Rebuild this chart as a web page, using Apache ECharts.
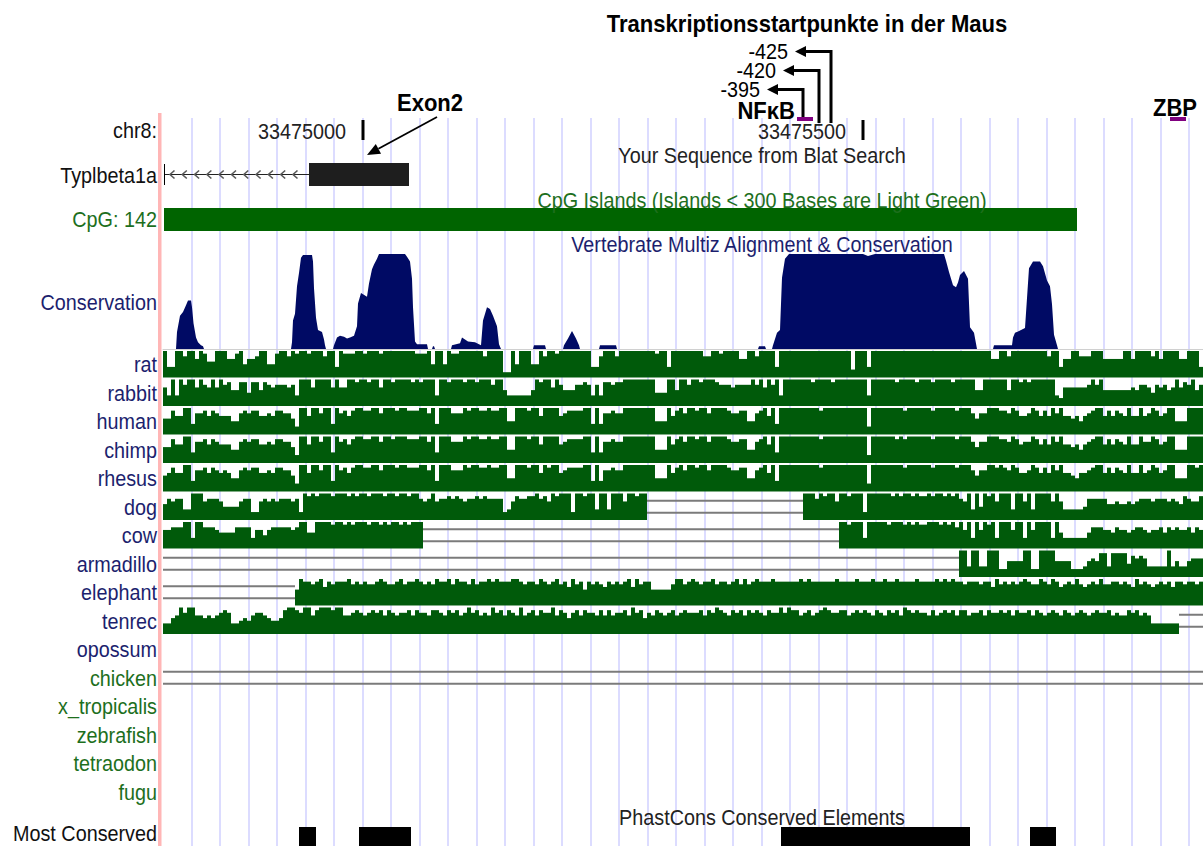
<!DOCTYPE html>
<html>
<head>
<meta charset="utf-8">
<title>Typlbeta1a promoter region, chr8</title>
<script src="https://cdn.jsdelivr.net/npm/echarts@6/dist/echarts.min.js"></script>
<style>
  html, body { margin: 0; padding: 0; background: #fff; }
  #chart { width: 1203px; height: 846px; }
</style>
</head>
<body>
<div id="chart"></div>
<script>
// ---------------- data ----------------
// genomic window on chr8 (1 base per pixel column)
const chromName = 'chr8';
const viewStart = 33474800;
const viewEnd = 33475840;

// base position ruler
const rulerTicks = [33475000, 33475500];

// Typlbeta1a, minus strand: visible intron part and exon 2
const geneName = 'Typlbeta1a';
const geneIntron = [33474801, 33474946];
const geneExon2 = [33474946, 33475046];
const exon2Callout = 33475004;

// CpG island
const cpgLabel = 'CpG: 142';
const cpgIsland = [33474801, 33475714];

// phastCons conservation: offsets from viewStart and scores (0..1)
const consOffsets = [0, 13, 14, 17, 20, 23, 25, 28, 29, 30.5, 33, 35, 38, 40, 41,
  128, 129, 130, 132, 134, 136, 138, 140, 149, 150, 151, 153, 155, 159, 161, 162, 163,
  170, 171, 174, 177, 181, 184, 187, 191, 194, 195, 198, 204, 206, 209, 211, 214, 216, 242, 244, 247, 249, 250, 252, 254, 264, 265,
  269, 270, 271, 272,
  288, 289, 297, 299, 302, 305, 312, 318, 320, 324, 327, 330, 334, 336, 338,
  370, 371, 382, 383,
  400, 401, 405, 409, 413, 416, 417,
  436, 437, 453, 454,
  595, 596, 602, 603,
  609, 610, 614, 617, 619, 622, 626, 700, 705, 712, 781, 783, 786, 790, 793, 795, 797, 801, 805, 807, 811, 814,
  830, 831, 849, 850, 852, 856, 862, 866, 870, 877, 880, 884, 887, 889, 891, 894, 895, 1040];
const consScores = [0, 0, 0.18, 0.35, 0.39, 0.46, 0.51, 0.51, 0.44, 0.27, 0.12, 0.07, 0.04, 0.03, 0,
  0, 0.07, 0.3, 0.37, 0.66, 0.8, 0.96, 0.99, 0.99, 0.92, 0.64, 0.33, 0.2, 0.18, 0.1, 0.04, 0,
  0, 0.04, 0.12, 0.14, 0.13, 0.11, 0.12, 0.14, 0.24, 0.48, 0.59, 0.55, 0.69, 0.84, 0.89, 0.95, 1, 1, 0.97, 0.92, 0.74, 0.44, 0.08, 0.05, 0.05, 0,
  0, 0.03, 0.03, 0,
  0, 0.04, 0.06, 0.12, 0.1, 0.08, 0.07, 0.04, 0.3, 0.44, 0.42, 0.35, 0.24, 0.05, 0,
  0, 0.04, 0.04, 0,
  0, 0.04, 0.11, 0.19, 0.11, 0.04, 0,
  0, 0.04, 0.04, 0,
  0, 0.03, 0.03, 0,
  0, 0.04, 0.17, 0.2, 0.75, 0.95, 1, 1, 0.98, 1, 1, 0.93, 0.81, 0.67, 0.65, 0.7, 0.78, 0.82, 0.74, 0.23, 0.17, 0,
  0, 0.04, 0.04, 0.12, 0.17, 0.19, 0.22, 0.85, 0.92, 0.92, 0.87, 0.72, 0.66, 0.47, 0.15, 0.04, 0, 0];

// multiz species; one character per 4 bases: 0-9 = score level, '-' = unaligned gap, '.' = no data
const speciesNames = ['rat', 'rabbit', 'human', 'chimp', 'rhesus', 'dog', 'cow', 'armadillo',
  'elephant', 'tenrec', 'opossum', 'chicken', 'x_tropicalis', 'zebrafish', 'tetraodon', 'fugu'];

const ratAlign = '9339979969 8559996689 4667994489 9798998999 7993988899 8999899999 9998889499 4988999999 7999911949 9944979989 9999999337 9997999999 9998993999 9999977998 9999669979 9993999999 9999999999 9929993999 9999999999 9999999999 9999999669 9799999999 9799366997 7799966666 9969999796 9999669993';
const rabbitAlign = '6393979969 7696978558 8488587677 7673999699 9969669989 9899699899 9989899939 9899989989 9979953333 3359899697 5557787373 8878899999 9994449959 9799899987 7767777979 6979399999 9989999899 9999993999 9998999989 9989999899 9995599999 9599898999 9993266666 6797955555 5565776476 7569687957';
const humanAlign = '5586699377 8687666447 8788667688 7752996997 9939786899 8899799989 9888997939 9977798998 8988994499 9899699996 7888899393 7787799999 9994449689 7998997999 9877884478 9693999999 9999899999 9999992999 9999989999 9989999989 9975779998 8798667986 8697966564 6789968687 6966967986 7994449999';
const chimpAlign = '5586699377 8687666447 8788667688 7752996997 9939786899 8899799899 9888997939 9977798998 8988994499 9899699996 7888899393 7787799999 9994449689 7998997999 9877884478 9693999999 9999899999 9999992999 9998989999 9989999989 9975779998 8798677986 8697966564 6789968687 6966977986 7994449999';
const rhesusAlign = '5686699377 8687676447 8788667688 7752996997 9939786899 8899799989 9888997939 9977798998 8988994499 9899698996 7888899393 7787799999 9994449689 7998997999 9877884478 9693999999 9999899999 9999992999 9999989999 9989999989 9975779989 8798667986 8697966546 6789968687 6966967986 7994449989';
const dogAlign = '5767733999 6777644446 7722676767 7767298989 9989998989 9899989989 9899767967 7878767787 8777723687 7889786989 9929989939 9399969989 9--------- ---------- ---------- ---------- 9997989969 9899929999 9989899898 8989989897 6939498969 9939969399 9969633333 4777775565 5656777677 7676587668';
const cowAlign = '6677799399 7776555577 7736646777 7767995599 9989989899 9899898998 98999----- ---------- ---------- ---------- ---------- ---------- ---------- ---------- ---------- ---------- ---------9 9899939999 9899989898 8999898979 6939698939 9969939699 9939533333 3577766576 6567765667 5767667576';
const armadilloAlign = '---------- ---------- ---------- ---------- ---------- ---------- ---------- ---------- ---------- ---------- ---------- ---------- ---------- ---------- ---------- ---------- ---------- ---------- ---------- ---------9 9399339992 2555599229 9995555222 3565883888 8476763333 3935335666';
const elephantAlign = '---------- ---------- ---------- ---5988789 6878889787 8778987789 7889878798 8979887978 8989888998 7887987897 8697858787 6878789697 8855555799 7898788978 8789797898 8898888889 8988888898 8889888988 9889888898 8889898988 7888788697 8787898779 8798678797 6787977887 8769787678 7868878878';
const tenrecAlign = '3356979966 5656787334 5467765445 8998799689 9989966787 6787868767 7868776887 6878679786 7697868769 6786877968 7578687768 6867786978 5768767867 8777868798 7687868787 6877979886 7867898778 8678787687 6878698787 7686787868 8677868778 7868778687 6787687678 7678778676 6878676333 3333------';
const opossumAlign = '';
const chickenAlign = '---------- ---------- ---------- ---------- ---------- ---------- ---------- ---------- ---------- ---------- ---------- ---------- ---------- ---------- ---------- ---------- ---------- ---------- ---------- ---------- ---------- ---------- ---------- ---------- ---------- ----------';
const xTropicalisAlign = '';
const zebrafishAlign = '';
const tetraodonAlign = '';
const fuguAlign = '';
const speciesAligns = [ratAlign, rabbitAlign, humanAlign, chimpAlign, rhesusAlign, dogAlign, cowAlign,
  armadilloAlign, elephantAlign, tenrecAlign, opossumAlign, chickenAlign, xTropicalisAlign,
  zebrafishAlign, tetraodonAlign, fuguAlign];
const ALIGN_STEP = 4;

// PhastCons most conserved elements (offsets from viewStart)
const mostConservedStarts = [136, 196, 618, 867];
const mostConservedEnds = [153, 248, 807, 893];

// mouse transcription start sites (offsets from viewStart)
const tssOffsets = [640, 656, 668];
const tssLabels = ['-395', '-420', '-425'];

// binding sites (offsets from viewStart)
const siteNames = ['NF\u03baB', 'ZBP'];
const siteStarts = [634, 1007];
const siteEnds = [650, 1023];

// ---------------- layout & style ----------------
const W = 1203, H = 846;
const DATA_LEFT = 163;
const LABEL_RIGHT = 157;
const TITLE_X = 762;
const FONT = '"Liberation Sans", Arial, Helvetica, sans-serif';
const TEXT_SCALE = 0.9;
const CONS_NAVY = '#000a64';
const NAVY_TEXT = '#1c1f6e';
const ALIGN_GREEN = '#005a0a';
const GREEN_TEXT = '#1d6f1d';
const CPG_GREEN = '#006400';
const GUIDE_COLOR = '#dcdcff';
const GAP_COLOR = '#7b7b7b';
const GAP_OFFSET = 6;
const SPECIES_TOP = 351, SPECIES_ROW = 28.5, SPECIES_H = 26.5;
const TSS_ROW_Y = [89.5, 70.5, 51.5];
const TSS_BOTTOM_Y = [117, 123, 123];
const TSS_ARM = 36;
const SITE_BAR_Y = 117, SITE_BAR_H = 4;
const SITE_LABEL_ALIGN = ['right', 'center'];
const SITE_LABEL_DX = [-2, -3];
const SITE_LABEL_Y = [110.5, 107.5];

const trackBoxes = [
  { key: 'ruler', top: 120, height: 20, label: chromName + ':', color: '#111', labelY: 130 },
  { key: 'gene', top: 163, height: 23, label: geneName, color: '#111', labelY: 175 },
  { key: 'cpg', top: 208, height: 23, label: cpgLabel, color: GREEN_TEXT, labelY: 219.5 },
  { key: 'cons', top: 254, height: 95, label: 'Conservation', color: NAVY_TEXT, labelY: 302.5 }
];
speciesNames.forEach((name, i) => {
  const top = SPECIES_TOP + SPECIES_ROW * i;
  trackBoxes.push({ key: 'sp' + i, top, height: SPECIES_H, label: name,
    color: i < 11 ? NAVY_TEXT : GREEN_TEXT, labelY: top + SPECIES_H / 2 });
});
trackBoxes.push({ key: 'phast', top: 827, height: 22, label: 'Most Conserved', color: '#111', labelY: 833.5 });

const trackTitles = [
  { text: 'Your Sequence from Blat Search', y: 155, color: '#222' },
  { text: 'CpG Islands (Islands < 300 Bases are Light Green)', y: 200, color: GREEN_TEXT },
  { text: 'Vertebrate Multiz Alignment & Conservation', y: 244, color: NAVY_TEXT },
  { text: 'PhastCons Conserved Elements', y: 817, color: '#222' }
];

// ---------------- helpers ----------------
function font(size, weight) { return (weight || 'normal') + ' ' + size + 'px ' + FONT; }
function textEl(text, x, y, color, size, align, weight) {
  return { type: 'text', x, y, scaleX: TEXT_SCALE, z: 50, silent: true,
    style: { text, fill: color, font: font(size, weight), align: align, verticalAlign: 'middle' } };
}
function decodeAlign(str) {
  const s = str.replace(/\s+/g, '');
  const out = [];
  let i = 0;
  while (i < s.length) {
    let j = i;
    while (j < s.length && s[j] === s[i]) j++;
    const ch = s[i];
    if (ch !== '.') {
      out.push([viewStart + i * ALIGN_STEP, viewStart + j * ALIGN_STEP, ch === '-' ? -1 : (+ch + 1) / 10]);
    }
    i = j;
  }
  return out;
}

// ---------------- render functions ----------------
function renderRuler(params, api) {
  const b = api.coord([api.value(0), 0]);
  const t = api.coord([api.value(0), 1]);
  return { type: 'group', children: [
    { type: 'rect', shape: { x: b[0] - 1.5, y: t[1], width: 3, height: b[1] - t[1] }, style: { fill: '#000' } },
    { type: 'text', x: b[0] - 17, y: (b[1] + t[1]) / 2 + 1, scaleX: TEXT_SCALE,
      style: { text: String(api.value(0)), fill: '#222', font: font(22), align: 'right', verticalAlign: 'middle' } }
  ] };
}

function renderTss(params, api) {
  const x = api.coord([api.value(0), 0])[0];
  const i = api.value(1);
  const y = TSS_ROW_Y[i];
  const tip = x - TSS_ARM;
  return { type: 'group', children: [
    { type: 'polyline', shape: { points: [[x, TSS_BOTTOM_Y[i]], [x, y], [tip + 8, y]] },
      style: { stroke: '#000', lineWidth: 3, fill: 'none' } },
    { type: 'polygon', shape: { points: [[tip, y], [tip + 11, y - 5.5], [tip + 11, y + 5.5]] }, style: { fill: '#000' } },
    { type: 'text', x: tip - 7, y: y, scaleX: TEXT_SCALE,
      style: { text: tssLabels[i], fill: '#000', font: font(22), align: 'right', verticalAlign: 'middle' } }
  ] };
}

function renderSite(params, api) {
  const i = api.value(2);
  const a = api.coord([api.value(0), 0])[0];
  const b = api.coord([api.value(1), 0])[0];
  const lx = SITE_LABEL_ALIGN[i] === 'right' ? a + SITE_LABEL_DX[i] : (a + b) / 2 + SITE_LABEL_DX[i];
  return { type: 'group', children: [
    { type: 'rect', shape: { x: a, y: SITE_BAR_Y, width: b - a, height: SITE_BAR_H }, style: { fill: '#800080' } },
    { type: 'text', x: lx, y: SITE_LABEL_Y[i], scaleX: TEXT_SCALE,
      style: { text: siteNames[i], fill: '#000', font: font(24.5, 'bold'), align: SITE_LABEL_ALIGN[i], verticalAlign: 'middle' } }
  ] };
}

function renderGene(params, api) {
  const a = api.coord([api.value(0), 0.5]);
  const b = api.coord([api.value(1), 0.5]);
  const c = api.coord([api.value(2), 0.5]);
  const top = api.coord([api.value(1), 1])[1];
  const bot = api.coord([api.value(1), 0])[1];
  const y = a[1];
  const kids = [
    { type: 'line', shape: { x1: a[0], y1: y, x2: b[0], y2: y }, style: { stroke: '#222', lineWidth: 1.2 } },
    { type: 'line', shape: { x1: a[0] + 0.5, y1: top + 1, x2: a[0] + 0.5, y2: bot - 1 }, style: { stroke: '#000', lineWidth: 1 } }
  ];
  for (let x = a[0] + 6; x < b[0] - 4; x += 12.3) {
    kids.push({ type: 'polyline', shape: { points: [[x + 4.5, y - 4], [x, y], [x + 4.5, y + 4]] },
      style: { stroke: '#5a5a5a', lineWidth: 1.6, fill: 'none' } });
  }
  kids.push({ type: 'rect', shape: { x: b[0], y: top, width: c[0] - b[0], height: bot - top }, style: { fill: '#1e1e1e' } });
  return { type: 'group', children: kids };
}

function renderCallout(params, api) {
  const tx = api.coord([api.value(0), 0])[0];
  const ty = 155, sx = tx + 70, sy = 117;
  const ang = Math.atan2(ty - sy, tx - sx);
  const L = 13, Wd = 5.5;
  const bx = tx - L * Math.cos(ang), by = ty - L * Math.sin(ang);
  const px = -Math.sin(ang) * Wd, py = Math.cos(ang) * Wd;
  return { type: 'group', children: [
    { type: 'line', shape: { x1: sx, y1: sy, x2: bx, y2: by }, style: { stroke: '#000', lineWidth: 1.8 } },
    { type: 'polygon', shape: { points: [[tx, ty], [bx + px, by + py], [bx - px, by - py]] }, style: { fill: '#000' } },
    { type: 'text', x: tx + 63, y: 103, scaleX: TEXT_SCALE,
      style: { text: 'Exon2', fill: '#000', font: font(24.5, 'bold'), align: 'center', verticalAlign: 'middle' } }
  ] };
}

function renderBlock(color) {
  return function (params, api) {
    const a = api.coord([api.value(0), 0]);
    const b = api.coord([api.value(1), 1]);
    return { type: 'rect', shape: { x: a[0], y: b[1], width: b[0] - a[0], height: a[1] - b[1] }, style: { fill: color } };
  };
}

function renderAlign(params, api) {
  const lv = api.value(2);
  const a = api.coord([api.value(0), 0]);
  const e = api.coord([api.value(1), 0]);
  if (lv < 0) {
    const mid = api.coord([api.value(0), 0.5])[1];
    return { type: 'group', children: [
      { type: 'line', shape: { x1: a[0], y1: mid - GAP_OFFSET, x2: e[0], y2: mid - GAP_OFFSET }, style: { stroke: GAP_COLOR, lineWidth: 2 } },
      { type: 'line', shape: { x1: a[0], y1: mid + GAP_OFFSET, x2: e[0], y2: mid + GAP_OFFSET }, style: { stroke: GAP_COLOR, lineWidth: 2 } }
    ] };
  }
  const t = api.coord([api.value(0), lv]);
  return { type: 'rect', shape: { x: a[0], y: t[1], width: e[0] - a[0], height: a[1] - t[1] }, style: { fill: ALIGN_GREEN } };
}

// ---------------- option ----------------
const grids = [{ left: DATA_LEFT, right: 0, top: 118, bottom: 0 }];
const xAxes = [{
  gridIndex: 0, type: 'value', min: 0, max: viewEnd - viewStart, interval: 28.5,
  axisLine: { show: false }, axisTick: { show: false }, axisLabel: { show: false },
  splitLine: { show: true, showMinLine: false, showMaxLine: false, lineStyle: { color: GUIDE_COLOR, width: 2 } }
}];
const yAxes = [{ gridIndex: 0, type: 'value', min: 0, max: 1, show: false }];
const gridIndexOf = {};
trackBoxes.forEach((t, i) => {
  const gi = i + 1;
  gridIndexOf[t.key] = gi;
  grids.push({ left: DATA_LEFT, right: 0, top: t.top, height: t.height });
  const isCons = t.key === 'cons';
  xAxes.push({
    gridIndex: gi, type: 'value', min: viewStart, max: viewEnd, show: isCons,
    axisLine: { show: isCons, onZero: false, lineStyle: { color: '#d0d0d0', width: 1 } },
    axisTick: { show: false }, axisLabel: { show: false }, splitLine: { show: false }
  });
  yAxes.push({ gridIndex: gi, type: 'value', min: 0, max: 1, show: false });
});

function onTrack(key) { return { xAxisIndex: gridIndexOf[key], yAxisIndex: gridIndexOf[key] }; }

const series = [];
series.push(Object.assign({ type: 'custom', name: 'ruler', renderItem: renderRuler,
  data: rulerTicks.map(t => [t]), encode: { x: 0 } }, onTrack('ruler')));
series.push(Object.assign({ type: 'custom', name: 'tss', renderItem: renderTss, z: 5,
  data: tssOffsets.map((o, i) => [viewStart + o, i]), encode: { x: 0 } }, onTrack('ruler')));
series.push(Object.assign({ type: 'custom', name: 'sites', renderItem: renderSite,
  data: siteStarts.map((s, i) => [viewStart + s, viewStart + siteEnds[i], i]), encode: { x: [0, 1] } }, onTrack('ruler')));
series.push(Object.assign({ type: 'custom', name: geneName, renderItem: renderGene,
  data: [[geneIntron[0], geneExon2[0], geneExon2[1]]], encode: { x: [0, 1, 2] } }, onTrack('gene')));
series.push(Object.assign({ type: 'custom', name: 'Exon2', renderItem: renderCallout,
  data: [[exon2Callout]], encode: { x: 0 } }, onTrack('gene')));
series.push(Object.assign({ type: 'custom', name: 'CpG', renderItem: renderBlock(CPG_GREEN),
  data: [[cpgIsland[0], cpgIsland[1]]], encode: { x: [0, 1] } }, onTrack('cpg')));
series.push(Object.assign({ type: 'line', name: 'Conservation', symbol: 'none', showSymbol: false,
  data: consOffsets.map((o, i) => [viewStart + o, consScores[i]]),
  lineStyle: { width: 0 }, areaStyle: { color: CONS_NAVY, opacity: 1 } }, onTrack('cons')));
speciesAligns.forEach((str, i) => {
  if (!str) return;
  series.push(Object.assign({ type: 'custom', name: speciesNames[i], renderItem: renderAlign,
    data: decodeAlign(str), encode: { x: [0, 1], y: 2 } }, onTrack('sp' + i)));
});
series.push(Object.assign({ type: 'custom', name: 'Most Conserved', renderItem: renderBlock('#000'),
  data: mostConservedStarts.map((s, i) => [viewStart + s, viewStart + mostConservedEnds[i]]), encode: { x: [0, 1] } }, onTrack('phast')));

const graphics = [
  { type: 'rect', shape: { x: 158, y: 113, width: 3.5, height: H - 113 }, style: { fill: '#ffb6b6' }, z: 1, silent: true },
  textEl('Transkriptionsstartpunkte in der Maus', 807, 24, '#000', 24.5, 'center', 'bold')
];
trackTitles.forEach(t => graphics.push(textEl(t.text, TITLE_X, t.y, t.color, 22, 'center')));
trackBoxes.forEach(t => graphics.push(textEl(t.label, LABEL_RIGHT, t.labelY, t.color, 22, 'right')));

const chart = echarts.init(document.getElementById('chart'), null, { renderer: 'svg', width: W, height: H });
chart.setOption({
  animation: false,
  backgroundColor: '#fff',
  textStyle: { fontFamily: FONT },
  grid: grids,
  xAxis: xAxes,
  yAxis: yAxes,
  series: series,
  graphic: { elements: graphics }
});
</script>
</body>
</html>
